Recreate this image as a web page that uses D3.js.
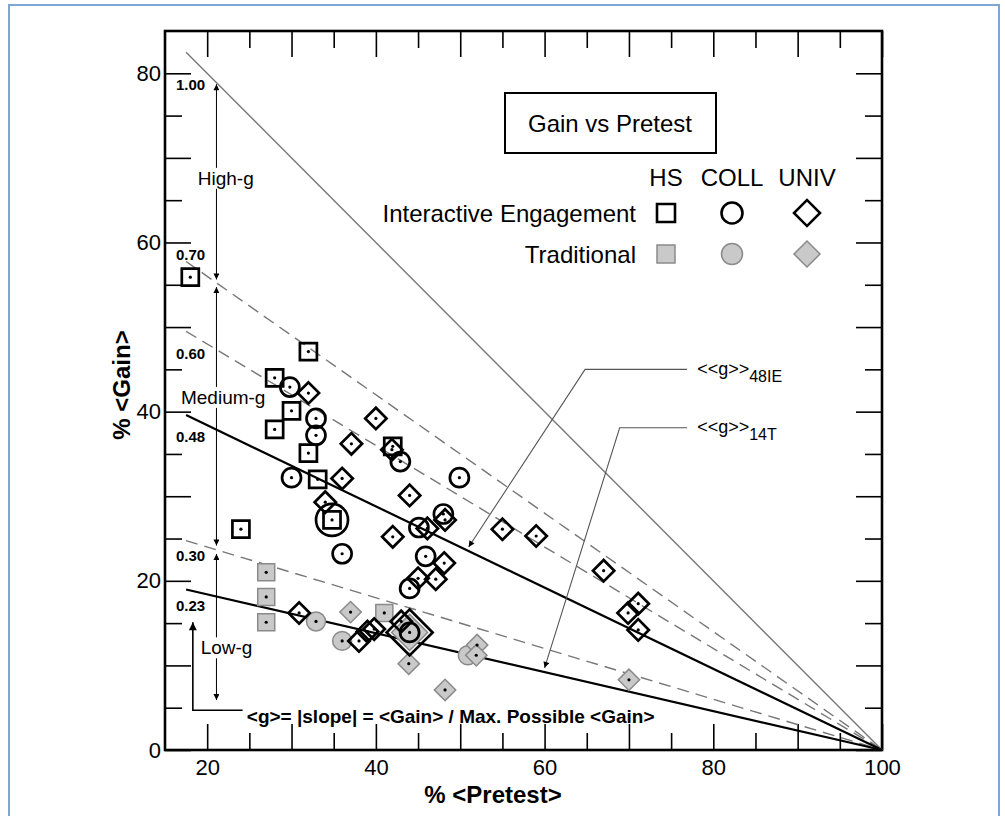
<!DOCTYPE html>
<html>
<head>
<meta charset="utf-8">
<script src="https://cdn.jsdelivr.net/npm/d3@7"></script>
<style>
  body { margin: 0; background: #fff; }
  text { font-family: "Liberation Sans", Arial, Helvetica, sans-serif; }
</style>
</head>
<body>
<div id="chart"></div>
<script>
(function() {
	// --- data: [% pretest, % gain] ---
	var hsIE = [[18,55.9],[32,47.1],[28,44.0],[30,40.1],[28,37.9],[32,35.1],[33.1,32.0],[34.8,27.2],[24,26.1],[42,35.9]];
	var collIE = [[29.8,42.9],[32.9,39.2],[32.9,37.2],[30,32.2],[36,23.2],[42.9,34.1],[49.9,32.2],[45.1,26.3],[48,27.9],[45.9,22.9],[44,19.1],[44,13.9]];
	var univIE = [[32,42.2],[40,39.2],[37.1,36.2],[36,32.1],[34,29.3],[41.9,35.5],[44,30.1],[42,25.2],[46.1,26.2],[48.2,27.2],
		[55,26.1],[59,25.3],[48.1,22.1],[47.1,20.2],[45,20.3],[67,21.2],[71.1,17.3],[69.9,16.2],[71.1,14.2],
		[30.9,16.2],[38,12.9],[39,14.0],[39.8,14.3],[43,15.2]];
	var hsT = [[27,21.0],[27,18.1],[27,15.1],[41,16.2]];
	var collT = [[32.9,15.2],[36,12.9],[50.9,11.2]];
	var univT = [[37,16.3],[43.9,10.2],[48.2,7.1],[52,12.4],[51.9,11.2],[70,8.3]];
	// averaged (large) symbols
	var bigCollIE = [[34.8,27.2]];
	var bigUnivIE = [[44,13.9]];
	var bigUnivT = [[44,13.9]];

	var gValues = [1.00, 0.70, 0.60, 0.48, 0.30, 0.23];
	var gLabels = ["1.00", "0.70", "0.60", "0.48", "0.30", "0.23"];
	var gLabelY = [78.7, 58.6, 46.9, 37.0, 23.0, 17.1];

	var xLabelTicks = [20, 40, 60, 80, 100];
	var yLabelTicks = [0, 20, 40, 60, 80];

	var font = '"Liberation Sans", Arial, Helvetica, sans-serif';

	var svg = d3.select("#chart").append("svg")
		.attr("width", 1005)
		.attr("height", 816);

	// outer frame
	svg.append("rect").attr("x", 9).attr("y", 5).attr("width", 990).attr("height", 840)
		.attr("fill", "#fff").attr("stroke", "#7ea7d8").attr("stroke-width", 2);

	var x = d3.scaleLinear().domain([15, 100]).range([165, 882]);
	var y = d3.scaleLinear().domain([0, 85]).range([750, 31]);

	// arrow markers
	var defs = svg.append("defs");
	defs.append("marker").attr("id", "ah").attr("viewBox", "0 0 10 10")
		.attr("refX", 10).attr("refY", 5).attr("markerWidth", 8).attr("markerHeight", 6)
		.attr("markerUnits", "userSpaceOnUse").attr("orient", "auto-start-reverse")
		.append("path").attr("d", "M0,0L10,5L0,10Z").attr("fill", "#000");
	defs.append("marker").attr("id", "ahBig").attr("viewBox", "0 0 10 10")
		.attr("refX", 10).attr("refY", 5).attr("markerWidth", 12).attr("markerHeight", 8)
		.attr("markerUnits", "userSpaceOnUse").attr("orient", "auto")
		.append("path").attr("d", "M0,0L10,5L0,10Z").attr("fill", "#000");

	// axes (ticks point inward)
	function styleAxis(g, showText) {
		g.select(".domain").remove();
		g.selectAll("line").attr("stroke", "#000").attr("stroke-width", 1.6);
		g.selectAll("text").attr("font-size", 22).attr("font-family", font).attr("fill", "#000");
		if (!showText) g.selectAll("text").remove();
	}
	var xMajor = d3.range(20, 101, 10), xMinor = d3.range(25, 100, 10);
	var yMajor = d3.range(0, 81, 10), yMinor = d3.range(5, 81, 10);
	var fmtX = function(d) { return xLabelTicks.indexOf(d) >= 0 ? d : ""; };
	var fmtY = function(d) { return yLabelTicks.indexOf(d) >= 0 ? d : ""; };

	svg.append("g").attr("transform", "translate(0,750)")
		.call(d3.axisBottom(x).tickValues(xMajor).tickSize(-26).tickSizeOuter(0).tickPadding(9).tickFormat(fmtX))
		.call(styleAxis, true);
	svg.append("g").attr("transform", "translate(0,750)")
		.call(d3.axisBottom(x).tickValues(xMinor).tickSize(-17).tickSizeOuter(0)).call(styleAxis, false);
	svg.append("g").attr("transform", "translate(0,31)")
		.call(d3.axisTop(x).tickValues(xMajor).tickSize(-26).tickSizeOuter(0)).call(styleAxis, false);
	svg.append("g").attr("transform", "translate(0,31)")
		.call(d3.axisTop(x).tickValues(xMinor).tickSize(-17).tickSizeOuter(0)).call(styleAxis, false);
	svg.append("g").attr("transform", "translate(165,0)")
		.call(d3.axisLeft(y).tickValues(yMajor).tickSize(-26).tickSizeOuter(0).tickPadding(4).tickFormat(fmtY))
		.call(styleAxis, true);
	svg.append("g").attr("transform", "translate(165,0)")
		.call(d3.axisLeft(y).tickValues(yMinor).tickSize(-17).tickSizeOuter(0)).call(styleAxis, false);
	svg.append("g").attr("transform", "translate(882,0)")
		.call(d3.axisRight(y).tickValues(yMajor).tickSize(-26).tickSizeOuter(0)).call(styleAxis, false);
	svg.append("g").attr("transform", "translate(882,0)")
		.call(d3.axisRight(y).tickValues(yMinor).tickSize(-17).tickSizeOuter(0)).call(styleAxis, false);

	svg.append("rect").attr("x", x(15)).attr("y", y(85)).attr("width", x(100) - x(15)).attr("height", y(0) - y(85))
		.attr("fill", "none").attr("stroke", "#000").attr("stroke-width", 2.6);

	// axis titles
	svg.append("text").attr("x", 493).attr("y", 803).attr("text-anchor", "middle")
		.attr("font-size", 24).attr("font-weight", "bold").text("% <Pretest>");
	svg.append("text").attr("transform", "translate(130,385) rotate(-90)").attr("text-anchor", "middle")
		.attr("font-size", 24).attr("font-weight", "bold").text("% <Gain>");

	// constant-g lines
	var x0 = 17.5;
	gValues.forEach(function(g, i) {
		var ln = svg.append("line")
			.attr("x1", x(x0)).attr("y1", y(g * (100 - x0)))
			.attr("x2", x(100)).attr("y2", y(0));
		if (g === 0.48 || g === 0.23) {
			ln.attr("stroke", "#000").attr("stroke-width", 2.2);
		} else if (g === 1.00) {
			ln.attr("stroke", "#777").attr("stroke-width", 1.4);
		} else {
			ln.attr("stroke", "#777").attr("stroke-width", 1.4).attr("stroke-dasharray", "12,7");
		}
		svg.append("text").attr("x", x(16.3)).attr("y", y(gLabelY[i]))
			.attr("dy", "0.35em").attr("font-size", 15).attr("font-weight", "bold").text(gLabels[i]);
	});

	// High / Medium / Low arrows (heads at both ends)
	var xa = 21.1;
	function vArrow(yTop, yBot) {
		svg.append("line").attr("x1", x(xa)).attr("x2", x(xa))
			.attr("y1", y(yTop)).attr("y2", y(yBot))
			.attr("stroke", "#000").attr("stroke-width", 1)
			.attr("marker-start", "url(#ah)").attr("marker-end", "url(#ah)");
	}
	vArrow(1.00 * (100 - xa) - 0.2, 0.70 * (100 - xa) + 0.4);
	vArrow(0.70 * (100 - xa) - 0.5, 0.30 * (100 - xa) + 0.5);
	vArrow(0.30 * (100 - xa) - 0.5, 5.9);

	function boxedText(tx, ty, str) {
		var t = svg.append("text").attr("x", x(tx)).attr("y", y(ty)).attr("dy", "0.35em")
			.attr("text-anchor", "middle").attr("font-size", 19).text(str);
		var b = t.node().getBBox();
		svg.insert("rect", function() { return t.node(); })
			.attr("x", b.x - 2).attr("y", b.y).attr("width", b.width + 4).attr("height", b.height)
			.attr("fill", "#fff");
	}
	boxedText(22.2, 67.6, "High-g");
	boxedText(21.9, 41.7, "Medium-g");
	boxedText(22.3, 12.1, "Low-g");

	// formula bracket
	svg.append("path")
		.attr("d", "M" + x(24.2) + "," + y(4.7) + "H" + x(18.3) + "V" + y(15.1))
		.attr("fill", "none").attr("stroke", "#000").attr("stroke-width", 1.6).attr("marker-end", "url(#ahBig)");
	svg.append("text").attr("x", x(24.7)).attr("y", y(4.0)).attr("dy", "0.35em")
		.attr("font-size", 19).attr("font-weight", "bold")
		.text("<g>= |slope| = <Gain> / Max. Possible <Gain>");

	// <<g>> annotations
	function callout(pts, label, sub) {
		svg.append("path")
			.attr("d", d3.line().x(function(d) { return x(d[0]); }).y(function(d) { return y(d[1]); })(pts))
			.attr("fill", "none").attr("stroke", "#555").attr("stroke-width", 1.1).attr("marker-end", "url(#ah)");
		var t = svg.append("text").attr("x", x(pts[0][0]) + 10).attr("y", y(pts[0][1])).attr("dy", "0.3em")
			.attr("font-size", 18);
		t.append("tspan").text(label);
		t.append("tspan").attr("font-size", 16).attr("dy", 7).text(sub);
	}
	callout([[76.9, 45.0], [64.8, 45.0], [51.0, 24.0]], "<<g>>", "48IE");
	callout([[76.9, 38.1], [68.9, 38.1], [60.0, 9.7]], "<<g>>", "14T");

	// markers
	var sqSym = d3.symbol().type(d3.symbolSquare);
	var ciSym = d3.symbol().type(d3.symbolCircle);
	function drawSet(data, kind, area, ie, dot) {
		var sym = kind === "circle" ? ciSym : sqSym;
		var g = svg.append("g");
		g.selectAll("path").data(data).enter().append("path")
			.attr("d", sym.size(area)())
			.attr("transform", function(d) {
				return "translate(" + x(d[0]) + "," + y(d[1]) + ")" + (kind === "diamond" ? " rotate(45)" : "");
			})
			.attr("fill", ie ? "none" : "#c9c9c9")
			.attr("stroke", ie ? "#000" : "#8a8a8a")
			.attr("stroke-width", ie ? 2.7 : 1.5);
		if (dot) {
			g.selectAll("circle").data(data).enter().append("circle")
				.attr("cx", function(d) { return x(d[0]); })
				.attr("cy", function(d) { return y(d[1]); })
				.attr("r", 1.6).attr("fill", "#000");
		}
	}
	drawSet(bigUnivT, "diamond", 650, false, false);
	drawSet(hsT, "square", 289, false, true);
	drawSet(collT, "circle", 283, false, true);
	drawSet(univT, "diamond", 228, false, true);
	drawSet(bigCollIE, "circle", 804, true, false);
	drawSet(bigUnivIE, "diamond", 1058, true, false);
	drawSet(hsIE, "square", 289, true, true);
	drawSet(collIE, "circle", 283, true, true);
	drawSet(univIE, "diamond", 228, true, true);

	// legend
	svg.append("rect").attr("x", 505).attr("y", 93).attr("width", 211).attr("height", 60)
		.attr("fill", "#fff").attr("stroke", "#000").attr("stroke-width", 2);
	svg.append("text").attr("x", 610).attr("y", 124).attr("dy", "0.35em").attr("text-anchor", "middle")
		.attr("font-size", 24).text("Gain vs Pretest");
	var legCols = [{ t: "HS", k: "square", cx: 666 }, { t: "COLL", k: "circle", cx: 732 }, { t: "UNIV", k: "diamond", cx: 807 }];
	var legArea = { square: 324, circle: 346, diamond: 338 };
	legCols.forEach(function(c) {
		svg.append("text").attr("x", c.cx).attr("y", 178).attr("dy", "0.35em").attr("text-anchor", "middle")
			.attr("font-size", 24).text(c.t);
		[[213, true], [254, false]].forEach(function(r) {
			var sym = c.k === "circle" ? ciSym : sqSym;
			svg.append("path").attr("d", sym.size(legArea[c.k])())
				.attr("transform", "translate(" + c.cx + "," + r[0] + ")" + (c.k === "diamond" ? " rotate(45)" : ""))
				.attr("fill", r[1] ? "none" : "#c9c9c9")
				.attr("stroke", r[1] ? "#000" : "#8a8a8a")
				.attr("stroke-width", r[1] ? 2.6 : 1.5);
		});
	});
	svg.append("text").attr("x", 636).attr("y", 214).attr("dy", "0.35em").attr("text-anchor", "end")
		.attr("font-size", 24).text("Interactive Engagement");
	svg.append("text").attr("x", 636).attr("y", 255).attr("dy", "0.35em").attr("text-anchor", "end")
		.attr("font-size", 24).text("Traditional");
})();
</script>
</body>
</html>
